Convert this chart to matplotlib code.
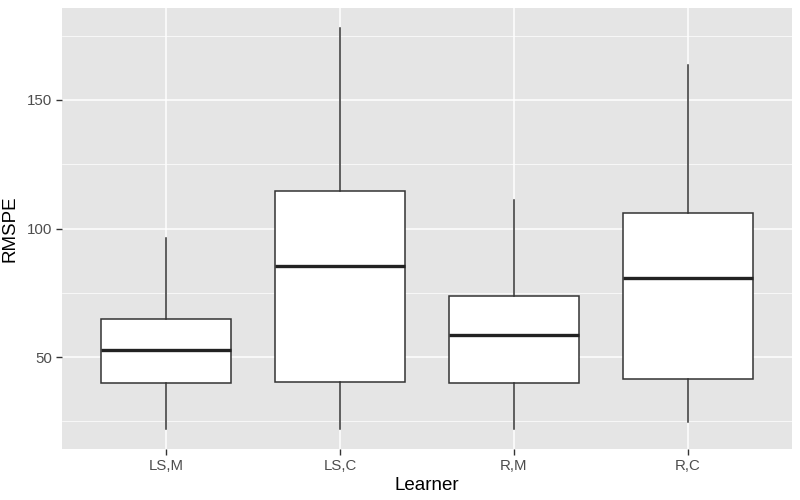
import matplotlib
matplotlib.use("Agg")
import matplotlib.pyplot as plt

categories = ["LS,M", "LS,C", "R,M", "R,C"]
whislo = [22.1, 22.1, 22.1, 24.8]
q1 = [39.9, 40.3, 39.9, 41.5]
med = [52.7, 85.3, 58.5, 80.6]
q3 = [64.7, 114.7, 73.6, 106.2]
whishi = [96.5, 177.9, 111.2, 163.6]

plt.rcParams['font.family'] = ['Liberation Sans', 'DejaVu Sans']
fig = plt.figure(figsize=(8, 5), dpi=100)
ax = fig.add_axes([62/800, 51/500, 730/800, 441/500])
ax.set_facecolor('#E5E5E5')

stats = []
for i, c in enumerate(categories):
    stats.append(dict(label=c, whislo=whislo[i], q1=q1[i], med=med[i],
                      q3=q3[i], whishi=whishi[i], fliers=[]))
pos = list(range(1, len(categories) + 1))
ax.bxp(stats, positions=pos, widths=0.75, patch_artist=True, showcaps=False,
       boxprops=dict(facecolor='white', edgecolor='#333333', linewidth=1.1),
       whiskerprops=dict(color='#333333', linewidth=1.1),
       medianprops=dict(color='#222222', linewidth=2.4),
       zorder=3)

lo = min(whislo); hi = max(whishi)
r = hi - lo
ax.set_ylim(lo - 0.05 * r, hi + 0.05 * r)
ax.set_xlim(0.4, len(categories) + 0.6)

ax.set_yticks([50, 100, 150])
ax.set_yticks([25, 75, 125, 175], minor=True)
ax.set_xticks(pos)
ax.set_xticklabels(categories)
ax.grid(which='major', color='white', linewidth=1.1, zorder=0)
ax.grid(which='minor', axis='y', color='white', linewidth=0.5, zorder=0)
ax.set_axisbelow(True)
for s in ax.spines.values():
    s.set_visible(False)
ax.tick_params(axis='both', which='major', length=4, width=1.0, color='#333333',
               labelcolor='#4D4D4D', labelsize=10.8, pad=3)
ax.tick_params(axis='y', which='minor', length=0)
ax.set_xlabel('Learner', fontsize=13.5, color='black', labelpad=3)
ax.set_ylabel('RMSPE', fontsize=13.5, color='black', labelpad=6)

fig.savefig('out.png', dpi=100)
